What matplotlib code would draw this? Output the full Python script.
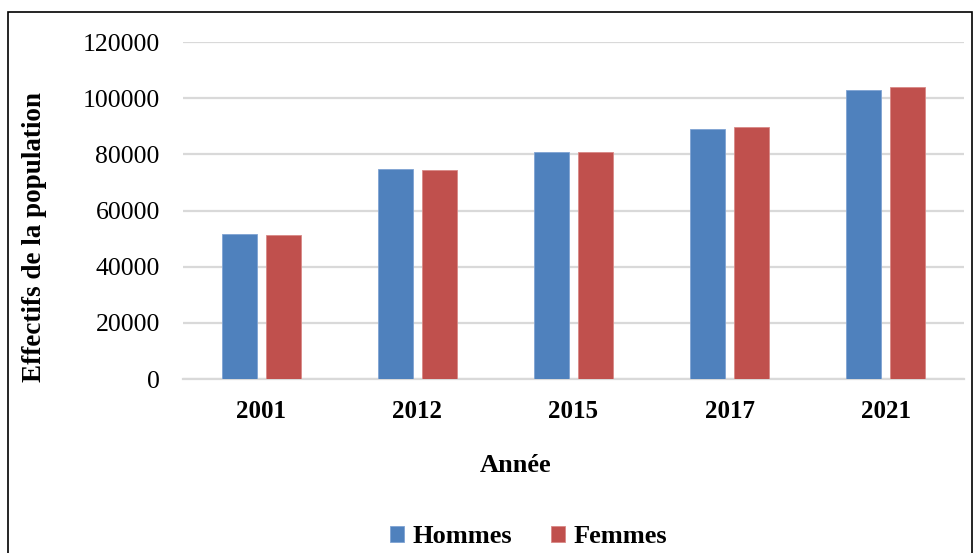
import numpy as np
import matplotlib
matplotlib.use("Agg")
from matplotlib import pyplot as plt
from matplotlib.patches import Rectangle

# data
annees = ["2001", "2012", "2015", "2017", "2021"]
hommes = [51700, 74800, 80900, 89100, 103000]
femmes = [51400, 74600, 80700, 89600, 103900]
yticks = [0, 20000, 40000, 60000, 80000, 100000, 120000]

blue = "#4F81BD"
red = "#C0504D"
grid = "#D9D9D9"

plt.rcParams['font.family'] = ['Liberation Serif', 'DejaVu Serif']

fig = plt.figure(figsize=(9.79, 5.53), dpi=100)
ax = fig.add_axes([0.1873, 0.3146, 0.797, 0.6094])

x = np.arange(len(annees))
w = 0.224
off = 0.141
ax.bar(x - off, hommes, w, color=blue, edgecolor="#7FA3D3", linewidth=0.6, label="Hommes", zorder=3)
ax.bar(x + off, femmes, w, color=red, edgecolor="#D98886", linewidth=0.6, label="Femmes", zorder=3)

ax.set_xlim(-0.5, len(annees) - 0.5)
ax.set_ylim(0, 120000)
ax.set_yticks(yticks)
ax.set_yticklabels([str(v) for v in yticks], fontsize=18.5)
ax.set_xticks(x)
ax.set_xticklabels(annees, fontsize=18, fontweight="bold")
ax.tick_params(axis="y", length=0, pad=17)
ax.tick_params(axis="x", length=0, pad=15)
ax.yaxis.grid(True, color=grid, linewidth=1.6, zorder=0)
ax.set_axisbelow(True)
for s in ["top", "right", "left"]:
    ax.spines[s].set_visible(False)
ax.spines["bottom"].set_color(grid)
ax.spines["bottom"].set_linewidth(1.6)

fig.text(0.527, 0.158, "Année", ha="center", va="center", fontsize=19, fontweight="bold")
fig.text(0.035, 0.571, "Effectifs de la population", ha="center", va="center",
         rotation=90, fontsize=19.5, fontweight="bold")

ax.legend(loc="center", bbox_to_anchor=(0.54, 0.029), bbox_transform=fig.transFigure,
          ncol=2, frameon=False, prop={"size": 19, "weight": "bold"},
          handlelength=0.53, handleheight=0.53, handletextpad=0.3, columnspacing=1.5)

fig.patches.append(Rectangle((8 / 979, -0.05), (972 - 8) / 979, 1.05 - 12 / 553,
                             transform=fig.transFigure, fill=False,
                             edgecolor="black", linewidth=1.2))

fig.savefig("out.png", dpi=100)
